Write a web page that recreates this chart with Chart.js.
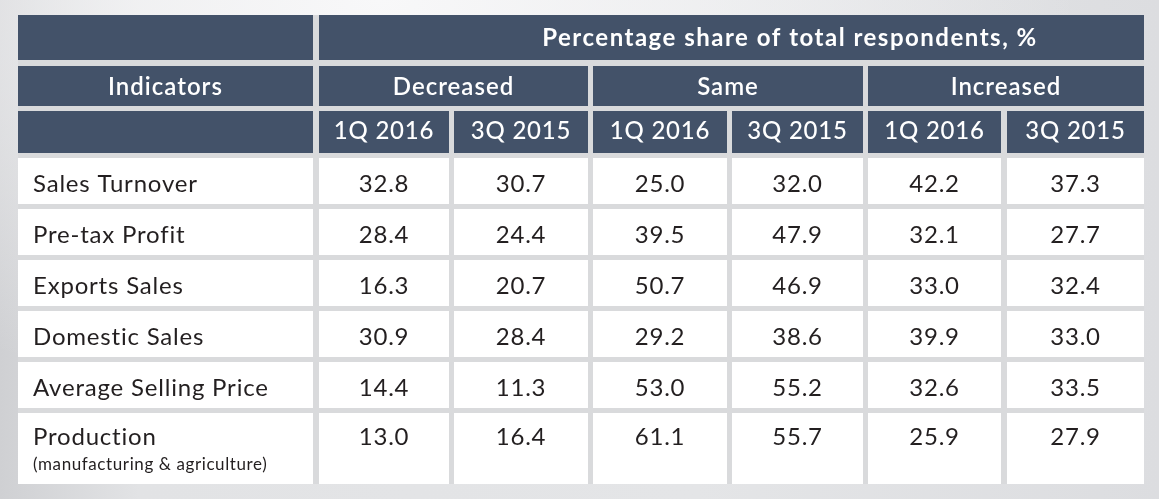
<!DOCTYPE html>
<html lang="en">
<head>
  <meta charset="UTF-8">
  <title>Business Conditions Survey</title>
  <script src="https://cdn.jsdelivr.net/npm/chart.js"></script>
  <style>
    html, body { margin: 0; padding: 0; }
    body {
      width: 1159px; height: 499px; overflow: hidden;
      background:
        radial-gradient(ellipse 700px 420px at 380px 0px, #f8f8f9 0%, rgba(248,248,249,0) 100%),
        linear-gradient(90deg, #cfd0d3 0%, #e2e3e5 12%, #e4e5e7 60%, #dcdde0 100%);
    }
    #wrap { position: relative; width: 1159px; height: 499px; }
  </style>
</head>
<body>
  <div id="wrap"><canvas id="tableChart"></canvas></div>

  <script>
    // table content
    const title = 'Percentage share of total respondents, %';
    const indicatorHead = 'Indicators';
    const groups = ['Decreased', 'Same', 'Increased'];
    const periods = ['1Q 2016', '3Q 2015'];
    const indicators = ['Sales Turnover', 'Pre-tax Profit', 'Exports Sales', 'Domestic Sales', 'Average Selling Price', 'Production'];
    const notes = ['', '', '', '', '', '(manufacturing & agriculture)'];

    const decreased1Q16 = [32.8, 28.4, 16.3, 30.9, 14.4, 13.0];
    const decreased3Q15 = [30.7, 24.4, 20.7, 28.4, 11.3, 16.4];
    const same1Q16 = [25.0, 39.5, 50.7, 29.2, 53.0, 61.1];
    const same3Q15 = [32.0, 47.9, 46.9, 38.6, 55.2, 55.7];
    const increased1Q16 = [42.2, 32.1, 33.0, 39.9, 32.6, 25.9];
    const increased3Q15 = [37.3, 27.7, 32.4, 33.0, 33.5, 27.9];

    const columns = [decreased1Q16, decreased3Q15, same1Q16, same3Q15, increased1Q16, increased3Q15];

    // layout (in scale units)
    const colEdges = [[18, 313], [319, 449], [454, 588], [593, 727], [732, 863], [868, 1001], [1007, 1144]];
    const headRows = [[15, 60], [66, 106], [111, 153]];
    const bodyRows = [[158, 204], [209, 255], [260, 306], [311, 357], [362, 408], [413, 484]];

    const HEAD = '#435269';
    const GAP = '#d9dadc';
    const INK = '#231f20';
    const FONT = 'Lato, "Open Sans", sans-serif';

    const tablePlugin = {
      id: 'tablePlugin',
      beforeDatasetsDraw(chart) {
        const { ctx, scales: { x, y } } = chart;
        const px = v => x.getPixelForValue(v);
        const py = v => y.getPixelForValue(v);
        const box = (x0, x1, y0, y1, color) => {
          ctx.fillStyle = color;
          ctx.fillRect(px(x0), py(y0), px(x1) - px(x0), py(y1) - py(y0));
        };
        const text = (str, xv, yv, font, color, align, spacing) => {
          ctx.font = font;
          ctx.fillStyle = color;
          ctx.letterSpacing = (spacing || 0) + 'px';
          ctx.textAlign = align || 'center';
          ctx.textBaseline = 'alphabetic';
          ctx.fillText(str, px(xv), py(yv));
          ctx.letterSpacing = '0px';
        };

        const left = colEdges[0][0], right = colEdges[6][1];
        box(left, right, headRows[0][0], bodyRows[5][1], GAP);

        // header row 1
        box(colEdges[0][0], colEdges[0][1], headRows[0][0], headRows[0][1], HEAD);
        box(colEdges[1][0], right, headRows[0][0], headRows[0][1], HEAD);
        text(title, 790, 46, 'bold 24px ' + FONT, '#ffffff', 'center', 1.5);

        // header row 2
        box(colEdges[0][0], colEdges[0][1], headRows[1][0], headRows[1][1], HEAD);
        text(indicatorHead, (colEdges[0][0] + colEdges[0][1]) / 2, 95, '600 24px ' + FONT, '#ffffff', 'center', 1);
        groups.forEach((g, i) => {
          const a = colEdges[1 + i * 2][0], b = colEdges[2 + i * 2][1];
          box(a, b, headRows[1][0], headRows[1][1], HEAD);
          text(g, (a + b) / 2, 95, '600 24px ' + FONT, '#ffffff', 'center', 1);
        });

        // header row 3
        box(colEdges[0][0], colEdges[0][1], headRows[2][0], headRows[2][1], HEAD);
        for (let c = 1; c < colEdges.length; c++) {
          const [a, b] = colEdges[c];
          box(a, b, headRows[2][0], headRows[2][1], HEAD);
          text(periods[(c - 1) % 2], (a + b) / 2, 139, '500 24px ' + FONT, '#ffffff', 'center', 0.8);
        }

        // body
        bodyRows.forEach(([r0, r1], r) => {
          const base = notes[r] ? r0 + 32 : r0 + 34;
          colEdges.forEach(([a, b]) => box(a, b, r0, r1, '#ffffff'));
          text(indicators[r], 33, base, '24px ' + FONT, INK, 'left', 0.8);
          if (notes[r]) text(notes[r], 33, base + 25, '17px ' + FONT, INK, 'left', 0.6);
          columns.forEach((col, c) => {
            const [a, b] = colEdges[c + 1];
            text(col[r].toFixed(1), (a + b) / 2, base, '24px ' + FONT, INK, 'center', 0.8);
          });
        });
      }
    };

    new Chart(document.getElementById('tableChart'), {
      type: 'scatter',
      data: { datasets: [] },
      options: {
        responsive: true,
        maintainAspectRatio: false,
        animation: false,
        layout: { padding: 0 },
        plugins: { legend: { display: false }, tooltip: { enabled: false } },
        scales: {
          x: { type: 'linear', min: 0, max: 1159, display: false },
          y: { type: 'linear', min: 0, max: 499, reverse: true, display: false }
        }
      },
      plugins: [tablePlugin]
    });
  </script>
</body>
</html>
